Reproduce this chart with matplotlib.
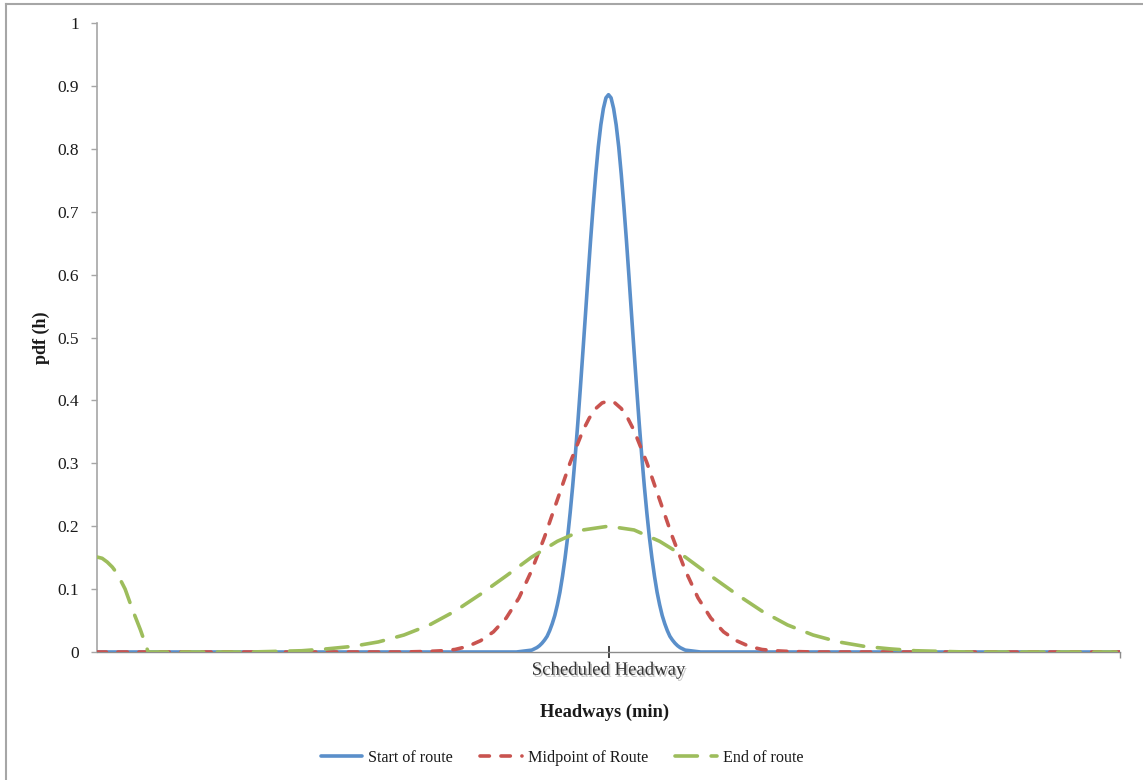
import matplotlib
matplotlib.use("Agg")
import matplotlib.pyplot as plt
import matplotlib.patheffects as pe
from matplotlib.lines import Line2D

# headway offset from the scheduled headway (x), pdf value (y)
x_start = [-10, -1.8, -1.6, -1.5, -1.4, -1.35, -1.3, -1.25, -1.2, -1.15, -1.1, -1.05,
           -1.0, -0.95, -0.9, -0.85, -0.8, -0.75, -0.7, -0.65, -0.6, -0.55, -0.5, -0.45,
           -0.4, -0.35, -0.3, -0.25, -0.2, -0.15, -0.1, -0.05, 0.0,
           0.05, 0.1, 0.15, 0.2, 0.25, 0.3, 0.35, 0.4, 0.45, 0.5, 0.55, 0.6, 0.65,
           0.7, 0.75, 0.8, 0.85, 0.9, 0.95, 1.0, 1.05, 1.1, 1.15, 1.2, 1.25, 1.3,
           1.35, 1.4, 1.5, 1.6, 1.8, 10]
y_start = [0.0, 0.0, 0.002, 0.003, 0.007, 0.010, 0.014, 0.019, 0.025, 0.034, 0.045, 0.058,
           0.075, 0.095, 0.120, 0.149, 0.182, 0.221, 0.264, 0.312, 0.364, 0.420, 0.478, 0.537,
           0.597, 0.655, 0.709, 0.759, 0.803, 0.838, 0.864, 0.881, 0.886,
           0.881, 0.864, 0.838, 0.803, 0.759, 0.709, 0.655, 0.597, 0.537, 0.478, 0.420, 0.364, 0.312,
           0.264, 0.221, 0.182, 0.149, 0.120, 0.095, 0.075, 0.058, 0.045, 0.034, 0.025, 0.019, 0.014,
           0.010, 0.007, 0.003, 0.002, 0.0, 0.0]

x_mid = [-10, -4.0, -3.5, -3.25, -3.0, -2.75, -2.5, -2.25, -2.0, -1.75, -1.5, -1.25,
         -1.0, -0.75, -0.5, -0.375, -0.25, -0.125, 0.0, 0.125, 0.25, 0.375, 0.5, 0.75,
         1.0, 1.25, 1.5, 1.75, 2.0, 2.25, 2.5, 2.75, 3.0, 3.25, 3.5, 4.0, 10]
y_mid = [0.0, 0.0, 0.001, 0.002, 0.004, 0.009, 0.018, 0.032, 0.054, 0.086, 0.130, 0.183,
         0.242, 0.301, 0.352, 0.372, 0.387, 0.396, 0.399, 0.396, 0.387, 0.372, 0.352, 0.301,
         0.242, 0.183, 0.130, 0.086, 0.054, 0.032, 0.018, 0.009, 0.004, 0.002, 0.001, 0.0, 0.0]

x_end = [-10, -9.9, -9.8, -9.7, -9.6, -9.45, -9.3, -9.15, -9.0, -8.0, -7.0, -6.5, -6.0,
         -5.5, -5.0, -4.5, -4.0, -3.5, -3.0, -2.5, -2.0, -1.5, -1.0, -0.5, 0.0, 0.5,
         1.0, 1.5, 2.0, 2.5, 3.0, 3.5, 4.0, 4.5, 5.0, 5.5, 6.0, 6.5, 7.0, 8.0, 10]
y_end = [0.151, 0.149, 0.143, 0.135, 0.124, 0.100, 0.066, 0.035, 0.0, 0.0, 0.0, 0.001, 0.002,
         0.005, 0.009, 0.016, 0.027, 0.043, 0.065, 0.092, 0.121, 0.151, 0.176, 0.194, 0.200, 0.194,
         0.176, 0.151, 0.121, 0.092, 0.065, 0.043, 0.027, 0.016, 0.009, 0.005, 0.002, 0.001, 0.0, 0.0, 0.0]

y_ticks = [0, 0.1, 0.2, 0.3, 0.4, 0.5, 0.6, 0.7, 0.8, 0.9, 1.0]
y_labels = ["0", "0.1", "0.2", "0.3", "0.4", "0.5", "0.6", "0.7", "0.8", "0.9", "1"]

COLORS = {"start": "#5a8fca", "mid": "#c9534f", "end": "#9dbd5c",
          "axis": "#8c8c8c", "frame": "#a6a6a6", "text": "#1a1a1a"}
FONT = ["Liberation Serif", "DejaVu Serif"]
plt.rcParams["font.family"] = FONT

W, H = 1143, 780
fig = plt.figure(figsize=(W / 100, H / 100), dpi=100, facecolor="white")
ax = fig.add_axes([97 / W, (H - 652) / H, 1023 / W, 629 / H])

lw = 2.6
ax.plot(x_start, y_start, color=COLORS["start"], lw=lw, solid_capstyle="round",
        solid_joinstyle="round", label="Start of route", zorder=3)
ax.plot(x_mid, y_mid, color=COLORS["mid"], lw=lw, dashes=(2.6, 3.2),
        dash_capstyle="round", label="Midpoint of Route", zorder=4)
ax.plot(x_end, y_end, color=COLORS["end"], lw=lw, dashes=(6.2, 3.8),
        dash_capstyle="round", label="End of route", zorder=5)

ax.set_xlim(-10, 10)
ax.set_ylim(0, 1)

# y axis: gray line, outward ticks
for s in ["top", "right"]:
    ax.spines[s].set_visible(False)
ax.spines["left"].set_color(COLORS["frame"])
ax.spines["left"].set_linewidth(1.2)
ax.spines["bottom"].set_color(COLORS["axis"])
ax.spines["bottom"].set_linewidth(1.0)
ax.set_yticks(y_ticks)
ax.set_yticklabels(y_labels)
ax.tick_params(axis="y", direction="out", length=4, width=1.0, color=COLORS["frame"],
               pad=9, labelsize=12.5, labelcolor=COLORS["text"])

# x axis: single category tick at the scheduled headway
ax.set_xticks([0])
ax.set_xticklabels(["Scheduled Headway"])
ax.tick_params(axis="x", direction="inout", length=8, width=1.2, color="#222222",
               pad=3, labelsize=13.5, labelcolor="#333333")
for t in ax.get_xticklabels():
    t.set_path_effects([pe.SimplePatchShadow(offset=(1.2, -1.5), shadow_rgbFace="#888888",
                                             alpha=0.5), pe.Normal()])
ax.set_xticks([10], minor=True)
ax.tick_params(axis="x", which="minor", direction="out", length=4, width=1.0,
               color=COLORS["axis"])

fig.text(605 / W, 1 - 712 / H, "Headways (min)", ha="center", va="center",
         fontsize=13.3, fontweight="bold", color=COLORS["text"])
fig.text(41 / W, 1 - 338 / H, "pdf (h)", ha="center", va="center", rotation=90,
         fontsize=13, fontweight="bold", color=COLORS["text"])

# chart-area border (only left and top edges are visible in the reference)
fig.add_artist(Line2D([5.5 / W, 5.5 / W], [0, 1 - 4 / H], color=COLORS["frame"], lw=1.5))
fig.add_artist(Line2D([5.5 / W, 1], [1 - 4 / H, 1 - 4 / H], color=COLORS["frame"], lw=1.5))

fig.legend(loc="center", bbox_to_anchor=(562 / W, 1 - 758 / H), ncol=3, frameon=False,
           fontsize=11.6, handlelength=2.6, handletextpad=0.35, columnspacing=1.7,
           labelcolor=COLORS["text"])

fig.savefig("out.png", dpi=100, facecolor="white")
